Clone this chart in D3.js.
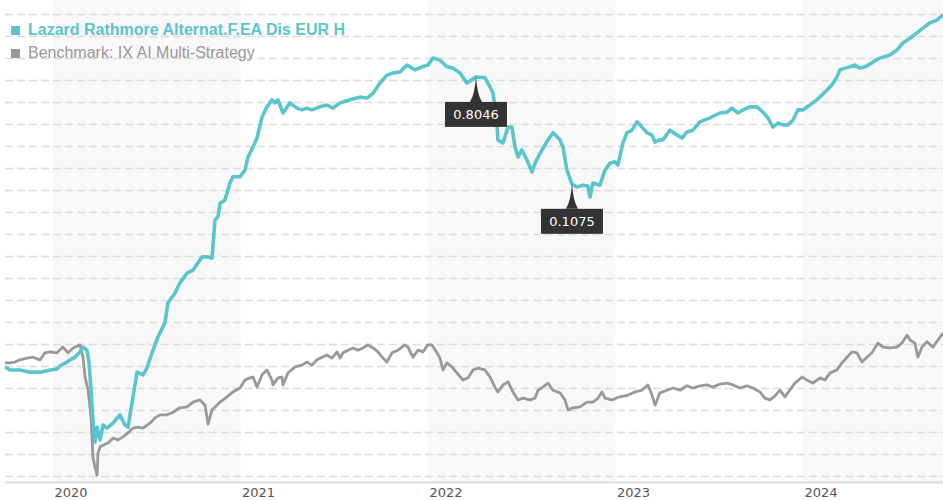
<!DOCTYPE html>
<html>
<head>
<meta charset="utf-8">
<script src="https://cdn.jsdelivr.net/npm/d3@7"></script>
<style>
  body { margin: 0; background: #fff; }
  svg { display: block; }
  .grid line { stroke: #dcdcdc; stroke-width: 1.5; stroke-dasharray: 8 4; }
  .xaxis text { font-family: "DejaVu Sans", Verdana, sans-serif; font-size: 13px; fill: #555; }
  .legend text { font-family: "Liberation Sans", Arial, sans-serif; font-size: 16px; }
  .tip text { font-family: "DejaVu Sans", Verdana, sans-serif; font-size: 13px; fill: #fff; }
</style>
</head>
<body>
<svg id="chart" width="943" height="500"></svg>
<script>
// series labels
const fundName = "Lazard Rathmore Alternat.F.EA Dis EUR H";
const benchName = "Benchmark: IX AI Multi-Strategy";

// x axis ticks (years)
const yearTicks = [2020, 2021, 2022, 2023, 2024];
const shadedYears = [2020, 2022, 2024];

// fund line: [decimal year, indexed value]
const fundData = [
  [2019.744, 99.8], [2019.771, 99.1], [2019.824, 99.1], [2019.877, 98.6], [2019.931, 98.6],
  [2019.984, 99.1], [2020.021, 99.3], [2020.037, 100.0], [2020.075, 100.9], [2020.091, 101.4],
  [2020.117, 102.0], [2020.144, 103.2], [2020.160, 104.3], [2020.181, 103.6], [2020.192, 100.9],
  [2020.203, 94.5], [2020.213, 87.7], [2020.224, 82.7], [2020.235, 86.1], [2020.251, 83.2],
  [2020.267, 86.6], [2020.288, 85.9], [2020.320, 87.0], [2020.357, 88.9], [2020.384, 86.6],
  [2020.400, 86.1], [2020.427, 93.0], [2020.448, 98.6], [2020.480, 98.0], [2020.501, 99.5],
  [2020.528, 103.0], [2020.560, 106.6], [2020.597, 109.8], [2020.613, 114.3], [2020.651, 116.6],
  [2020.677, 118.9], [2020.715, 121.1], [2020.747, 121.8], [2020.773, 123.4], [2020.795, 124.8],
  [2020.827, 124.8], [2020.848, 124.5], [2020.864, 133.2], [2020.880, 133.9], [2020.891, 137.0],
  [2020.917, 137.7], [2020.944, 141.6], [2020.960, 143.0], [2020.997, 143.0], [2021.024, 144.5],
  [2021.040, 147.5], [2021.067, 149.8], [2021.088, 151.8], [2021.115, 156.6], [2021.141, 158.9],
  [2021.168, 160.5], [2021.184, 159.8], [2021.200, 160.5], [2021.227, 157.5], [2021.264, 159.8],
  [2021.301, 158.6], [2021.328, 158.2], [2021.355, 158.6], [2021.381, 158.2], [2021.424, 158.9],
  [2021.461, 159.3], [2021.493, 158.6], [2021.531, 159.8], [2021.584, 160.5], [2021.637, 161.1],
  [2021.675, 160.9], [2021.707, 162.0], [2021.744, 164.3], [2021.781, 166.1], [2021.813, 166.6],
  [2021.851, 166.8], [2021.888, 168.4], [2021.931, 167.3], [2021.968, 168.0], [2022.000, 168.4],
  [2022.027, 170.0], [2022.064, 169.5], [2022.101, 168.0], [2022.133, 167.7], [2022.171, 166.6],
  [2022.208, 164.3], [2022.256, 165.7], [2022.304, 165.5], [2022.331, 163.4], [2022.347, 162.0],
  [2022.357, 158.9], [2022.368, 155.2], [2022.373, 151.4], [2022.400, 150.7], [2022.427, 154.3],
  [2022.448, 154.3], [2022.464, 149.8], [2022.480, 147.5], [2022.501, 149.1], [2022.528, 146.8],
  [2022.555, 144.1], [2022.571, 146.1], [2022.608, 149.1], [2022.640, 151.4], [2022.667, 153.0],
  [2022.704, 151.4], [2022.720, 149.8], [2022.741, 144.5], [2022.768, 141.4], [2022.795, 140.7],
  [2022.827, 141.1], [2022.853, 140.9], [2022.864, 138.4], [2022.880, 141.6], [2022.917, 141.1],
  [2022.944, 144.5], [2022.971, 146.1], [2022.997, 146.4], [2023.013, 145.7], [2023.040, 150.7],
  [2023.061, 153.0], [2023.088, 153.6], [2023.115, 155.5], [2023.131, 154.8], [2023.168, 153.0],
  [2023.195, 152.5], [2023.211, 150.9], [2023.237, 151.4], [2023.253, 151.4], [2023.291, 153.6],
  [2023.328, 152.5], [2023.355, 151.8], [2023.381, 153.2], [2023.413, 153.6], [2023.451, 155.5],
  [2023.504, 156.4], [2023.557, 157.5], [2023.595, 157.7], [2023.621, 158.6], [2023.653, 157.5],
  [2023.680, 158.2], [2023.717, 158.9], [2023.755, 158.9], [2023.787, 157.7], [2023.813, 156.4],
  [2023.840, 154.3], [2023.867, 155.2], [2023.893, 154.8], [2023.920, 154.8], [2023.947, 155.9],
  [2023.973, 158.2], [2024.000, 158.2], [2024.037, 159.3], [2024.075, 160.5], [2024.101, 161.6],
  [2024.128, 162.7], [2024.155, 163.9], [2024.181, 165.7], [2024.197, 167.3], [2024.224, 167.7],
  [2024.251, 168.0], [2024.277, 168.4], [2024.304, 167.7], [2024.331, 168.0], [2024.368, 168.9],
  [2024.400, 169.8], [2024.427, 170.2], [2024.464, 170.7], [2024.501, 171.8], [2024.533, 173.4],
  [2024.571, 174.5], [2024.608, 175.7], [2024.640, 176.8], [2024.677, 178.0], [2024.715, 178.6],
  [2024.747, 179.8]
];

// benchmark line: [decimal year, indexed value]
const benchData = [
  [2019.744, 100.7], [2019.771, 100.7], [2019.797, 100.9], [2019.824, 101.4], [2019.861, 101.8],
  [2019.893, 102.0], [2019.931, 101.4], [2019.957, 103.0], [2019.984, 103.2], [2020.021, 103.0],
  [2020.053, 104.3], [2020.080, 103.0], [2020.107, 104.1], [2020.144, 104.8], [2020.160, 102.0],
  [2020.171, 97.5], [2020.187, 94.5], [2020.203, 88.4], [2020.213, 79.3], [2020.224, 77.0],
  [2020.235, 75.2], [2020.240, 80.2], [2020.251, 81.6], [2020.267, 82.0], [2020.293, 82.5],
  [2020.320, 83.6], [2020.347, 83.2], [2020.373, 83.9], [2020.400, 84.8], [2020.427, 85.9],
  [2020.453, 86.1], [2020.480, 85.9], [2020.517, 87.0], [2020.544, 88.2], [2020.571, 88.9],
  [2020.608, 88.9], [2020.640, 89.5], [2020.677, 90.5], [2020.715, 90.7], [2020.747, 91.8],
  [2020.784, 92.3], [2020.811, 91.1], [2020.827, 86.8], [2020.848, 90.0], [2020.891, 91.8],
  [2020.928, 93.0], [2020.960, 94.1], [2020.997, 95.0], [2021.024, 96.8], [2021.051, 97.3],
  [2021.067, 97.5], [2021.088, 95.2], [2021.115, 98.0], [2021.141, 99.1], [2021.168, 96.8],
  [2021.173, 95.7], [2021.200, 97.3], [2021.221, 97.5], [2021.227, 95.7], [2021.253, 98.4],
  [2021.291, 99.8], [2021.328, 100.2], [2021.355, 100.9], [2021.381, 100.2], [2021.408, 101.4],
  [2021.435, 102.0], [2021.461, 102.5], [2021.488, 101.8], [2021.515, 103.2], [2021.531, 101.8],
  [2021.547, 103.0], [2021.573, 103.6], [2021.600, 104.1], [2021.627, 103.6], [2021.653, 104.1],
  [2021.680, 104.8], [2021.707, 104.1], [2021.733, 103.2], [2021.760, 101.8], [2021.781, 100.9],
  [2021.808, 103.0], [2021.840, 103.6], [2021.877, 104.8], [2021.893, 104.3], [2021.920, 102.0],
  [2021.947, 103.6], [2021.973, 103.2], [2022.000, 104.8], [2022.021, 104.8], [2022.048, 103.0],
  [2022.064, 101.8], [2022.080, 99.1], [2022.101, 100.7], [2022.128, 99.8], [2022.155, 98.4],
  [2022.187, 96.8], [2022.213, 97.3], [2022.240, 99.1], [2022.267, 99.5], [2022.304, 99.1],
  [2022.331, 97.5], [2022.357, 95.2], [2022.373, 94.1], [2022.400, 95.7], [2022.427, 96.4],
  [2022.453, 94.1], [2022.480, 92.3], [2022.507, 92.7], [2022.544, 92.3], [2022.571, 92.7],
  [2022.587, 94.5], [2022.613, 95.2], [2022.640, 96.1], [2022.667, 94.5], [2022.704, 93.9],
  [2022.731, 92.3], [2022.747, 90.0], [2022.773, 90.5], [2022.811, 90.7], [2022.848, 91.8],
  [2022.880, 91.8], [2022.907, 92.7], [2022.928, 94.1], [2022.944, 92.7], [2022.981, 92.3],
  [2023.024, 93.0], [2023.067, 93.4], [2023.104, 94.1], [2023.141, 94.5], [2023.173, 95.7],
  [2023.195, 93.4], [2023.211, 91.1], [2023.237, 93.9], [2023.275, 94.5], [2023.307, 95.0],
  [2023.344, 94.5], [2023.381, 95.5], [2023.413, 95.0], [2023.451, 95.5], [2023.488, 95.7],
  [2023.520, 95.2], [2023.557, 95.9], [2023.595, 96.1], [2023.627, 95.7], [2023.664, 95.0],
  [2023.701, 95.5], [2023.733, 95.0], [2023.771, 94.1], [2023.797, 92.7], [2023.824, 92.3],
  [2023.851, 93.2], [2023.877, 94.5], [2023.904, 93.0], [2023.957, 96.1], [2023.995, 97.5],
  [2024.021, 96.8], [2024.053, 96.1], [2024.091, 97.3], [2024.117, 96.8], [2024.144, 98.4],
  [2024.181, 99.1], [2024.208, 100.7], [2024.235, 102.0], [2024.261, 103.2], [2024.288, 103.0],
  [2024.315, 100.9], [2024.341, 102.0], [2024.368, 103.0], [2024.400, 105.2], [2024.427, 104.3],
  [2024.464, 104.1], [2024.501, 104.3], [2024.528, 105.2], [2024.555, 107.0], [2024.571, 105.9],
  [2024.597, 105.2], [2024.613, 102.0], [2024.635, 104.3], [2024.661, 105.5], [2024.693, 104.3],
  [2024.720, 105.9], [2024.747, 107.5]
];

// flagged points on the fund line
const tipDates = [2022.256, 2022.768];
const tipLabels = ["0.8046", "0.1075"];

const fundColor = "#5bc5cd";
const benchColor = "#999999";

const svg = d3.select("#chart");
const plotLeft = 5, plotRight = 943, plotTop = 14, plotBottom = 476, axisY = 482;

const x = d3.scaleLinear()
    .domain([fundData[0][0], fundData[fundData.length - 1][0]])
    .range([plotLeft, plotRight]);

const y = d3.scaleLinear()
    .domain([75, 180])
    .range([plotBottom, plotTop]);

// alternate year shading
svg.append("g")
    .selectAll("rect")
    .data(shadedYears)
    .enter()
    .append("rect")
    .attr("x", d => x(d))
    .attr("y", 0)
    .attr("width", d => Math.min(x(d + 1), plotRight) - x(d))
    .attr("height", axisY)
    .attr("fill", "#f8f8f8");

// dashed horizontal grid
svg.append("g")
    .attr("class", "grid")
    .attr("transform", "translate(" + plotLeft + ",0)")
    .call(d3.axisLeft(y).tickValues(d3.range(75, 181, 5)).tickSize(-(plotRight - plotLeft)).tickFormat(""))
    .call(g => g.select(".domain").remove());

// x axis
let xAxis = svg.append("g")
    .attr("class", "xaxis")
    .attr("transform", "translate(0," + axisY + ")")
    .call(d3.axisBottom(x).tickValues(yearTicks).tickFormat(d3.format("d")).tickSize(0).tickSizeOuter(0));
xAxis.select(".domain").attr("stroke", "#dddddd").attr("stroke-width", 2);
xAxis.selectAll("text")
    .attr("text-anchor", "start")
    .attr("x", 1)
    .attr("dy", "0.95em")
    .attr("y", 3);

const line = d3.line()
    .x(d => x(d[0]))
    .y(d => y(d[1]));

svg.append("path")
    .datum(benchData)
    .attr("fill", "none")
    .attr("stroke", benchColor)
    .attr("stroke-width", 2.8)
    .attr("stroke-linejoin", "round")
    .attr("d", line);

svg.append("path")
    .datum(fundData)
    .attr("fill", "none")
    .attr("stroke", fundColor)
    .attr("stroke-width", 3.6)
    .attr("stroke-linejoin", "round")
    .attr("d", line);

// value flags
let tips = svg.append("g")
    .attr("class", "tip")
    .selectAll("g")
    .data(tipDates)
    .enter()
    .append("g")
    .attr("transform", d => {
        let p = fundData.find(e => e[0] === d);
        return "translate(" + x(d) + "," + (y(p[1]) - 1) + ")";
    });

tips.append("path")
    .attr("d", "M0,0 Q1,18 6,26 L-6,26 Q-1,18 0,0 Z")
    .attr("fill", "#333333");

tips.append("rect")
    .attr("x", -31)
    .attr("y", 26)
    .attr("width", 62)
    .attr("height", 25)
    .attr("fill", "#333333");

tips.append("text")
    .attr("x", 0)
    .attr("y", 43)
    .attr("text-anchor", "middle")
    .text((d, i) => tipLabels[i]);

// legend
let legend = svg.append("g").attr("class", "legend");
let legendItems = [
    {name: fundName, color: fundColor, weight: "bold"},
    {name: benchName, color: benchColor, weight: "normal"}
];
legend.selectAll("rect")
    .data(legendItems)
    .enter()
    .append("rect")
    .attr("x", 11)
    .attr("y", (d, i) => 26 + i * 23)
    .attr("width", 9)
    .attr("height", 9)
    .attr("fill", d => d.color);
legend.selectAll("text")
    .data(legendItems)
    .enter()
    .append("text")
    .attr("x", 28)
    .attr("y", (d, i) => 35 + i * 23)
    .attr("fill", d => d.color)
    .attr("font-weight", d => d.weight)
    .text(d => d.name);
</script>
</body>
</html>
